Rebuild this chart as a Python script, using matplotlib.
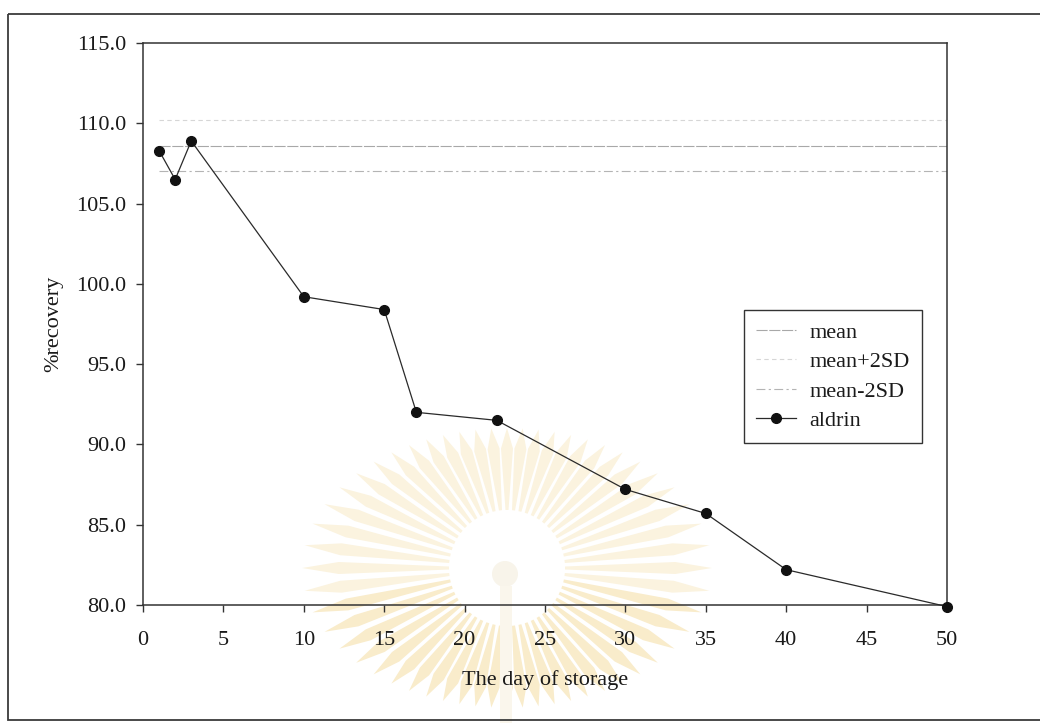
import numpy as np
import matplotlib
matplotlib.use("Agg")
import matplotlib.pyplot as plt
from matplotlib.patches import Rectangle, Polygon, Circle
from matplotlib.ticker import FormatStrFormatter

# recovery of aldrin over storage time
days = [1, 2, 3, 10, 15, 17, 22, 30, 35, 40, 50]
recovery = [108.3, 106.5, 108.9, 99.2, 98.4, 92.0, 91.5, 87.2, 85.7, 82.2, 79.9]

# control limits, drawn from first to last day
limit_days = [1, 50]
mean_val = 108.6
upper_val = 110.2
lower_val = 107.0

plt.rcParams['font.family'] = ['Liberation Serif', 'DejaVu Serif']

fig = plt.figure(figsize=(10.4, 7.23), dpi=100)
fig.patch.set_facecolor('white')

# background layer in pixel units (page frame + faint emblem)
bg = fig.add_axes([0, 0, 1, 1], zorder=0)
bg.set_xlim(0, 1040)
bg.set_ylim(723, 0)
bg.axis('off')

cx, cy = 507, 568
n_rays = 56
for k in range(n_rays):
    th = 2 * np.pi * k / n_rays
    rout = 1.0 / np.sqrt((np.cos(th) / 205) ** 2 + (np.sin(th) / 140) ** 2)
    rin = 58
    d = np.array([np.cos(th), np.sin(th)])
    p = np.array([-np.sin(th), np.cos(th)])
    c = np.array([cx, cy])
    rmid = rin + 0.75 * (rout - rin)
    pts = [c + d * rin + p * 1.5, c + d * rmid + p * 6, c + d * rout,
           c + d * rmid - p * 6, c + d * rin - p * 1.5]
    col = '#f9eccb' if np.sin(th) > 0.2 else '#fbf3df'
    bg.add_patch(Polygon(pts, closed=True, facecolor=col, edgecolor='none'))
bg.add_patch(Circle((505, 574), 13, facecolor='#f8f4ea', edgecolor='none'))
bg.add_patch(Rectangle((500, 586), 12, 140, facecolor='#faf6ec', edgecolor='none'))
bg.add_patch(Rectangle((8, 14), 1050, 706, facecolor='none',
                       edgecolor='#3a3a3a', linewidth=1.3))

ax = fig.add_axes([0.1375, 0.1632, 0.7731, 0.7773], zorder=1)
ax.patch.set_alpha(0)

ax.plot(limit_days, [mean_val] * 2, color='#a8a8a8', linewidth=0.8,
        linestyle=(0, (10, 1.5)), label='mean')
ax.plot(limit_days, [upper_val] * 2, color='#d6d6d6', linewidth=0.8,
        linestyle=(0, (4, 3)), label='mean+2SD')
ax.plot(limit_days, [lower_val] * 2, color='#b4b4b4', linewidth=0.8,
        linestyle=(0, (8, 3, 2, 3)), label='mean-2SD')
ax.plot(days, recovery, color='#2a2a2a', linewidth=0.9, marker='o',
        markersize=7, markerfacecolor='#111111', markeredgecolor='#111111',
        label='aldrin', clip_on=False, zorder=3)

ax.set_xlim(0, 50)
ax.set_ylim(80, 115)
ax.set_xticks(range(0, 51, 5))
ax.set_yticks(np.arange(80, 115.1, 5))
ax.yaxis.set_major_formatter(FormatStrFormatter('%.1f'))
ax.tick_params(axis='both', direction='out', length=5, width=1,
               color='#333333', labelsize=16, labelcolor='#1a1a1a')
ax.tick_params(axis='x', pad=14)
ax.tick_params(axis='y', pad=7)
for s in ax.spines.values():
    s.set_color('#333333')
    s.set_linewidth(1.1)

ax.set_xlabel('The day of storage', fontsize=16, color='#1a1a1a', labelpad=14)
ax.set_ylabel('%recovery', fontsize=16, color='#1a1a1a', labelpad=9)

leg = ax.legend(loc='upper left', bbox_to_anchor=(0.7154, 0.5712),
                bbox_transform=fig.transFigure, fontsize=16, frameon=True,
                fancybox=False, framealpha=1, edgecolor='#333333',
                handlelength=1.8, handletextpad=0.6, labelspacing=0.4,
                borderpad=0.55, borderaxespad=0)
leg.get_frame().set_linewidth(1.0)
for t in leg.get_texts():
    t.set_color('#1a1a1a')

fig.savefig('out.png', dpi=100, facecolor='white')
